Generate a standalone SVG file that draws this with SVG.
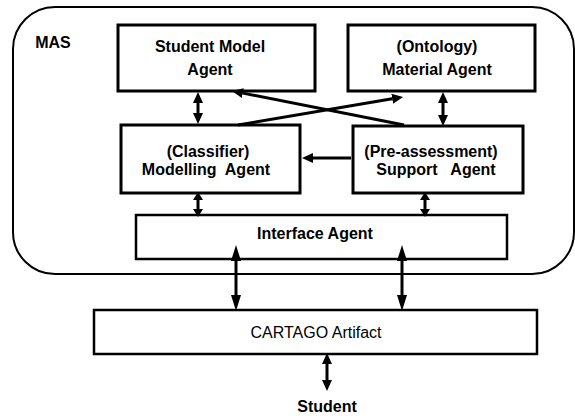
<svg xmlns="http://www.w3.org/2000/svg" width="575" height="416" viewBox="0 0 575 416">
<style>
.box{fill:#fff;stroke:#000;stroke-width:3}
.thin{fill:#fff;stroke:#000;stroke-width:2.5}
.t{font-family:"Liberation Sans",Arial,sans-serif;font-size:16px;font-weight:bold;text-anchor:middle;fill:#000}
.r{font-family:"Liberation Sans",Arial,sans-serif;font-size:16px;text-anchor:middle;fill:#000}
.c line{stroke:#000;stroke-width:3}
</style>
<defs>
<marker id="am" markerUnits="userSpaceOnUse" markerWidth="11" markerHeight="10" viewBox="0 -5 11 10" refX="0" refY="0" orient="auto-start-reverse"><path d="M0,-5L11,0L0,5z" fill="#000"/></marker>
<marker id="al" markerUnits="userSpaceOnUse" markerWidth="16" markerHeight="10" viewBox="0 -5 16 10" refX="0" refY="0" orient="auto-start-reverse"><path d="M0,-5L16,0L0,5z" fill="#000"/></marker>
<marker id="as" markerUnits="userSpaceOnUse" markerWidth="8" markerHeight="10" viewBox="0 -5 8 10" refX="0" refY="0" orient="auto-start-reverse"><path d="M0,-5L8,0L0,5z" fill="#000"/></marker>
</defs>
<rect width="575" height="416" fill="#fff"/>
<g id="mas">
<rect x="13" y="7" width="561" height="267" rx="42" ry="42" fill="none" stroke="#000" stroke-width="2"/>
<text class="t" x="53" y="48">MAS</text>
</g>
<g id="student-model">
<rect class="box" x="118" y="25" width="197" height="66"/>
<text class="t" x="210" y="52">Student Model</text>
<text class="t" x="210" y="75">Agent</text>
</g>
<g id="material">
<rect class="box" x="348" y="25" width="187" height="66"/>
<text class="t" x="437" y="52">(Ontology)</text>
<text class="t" x="437" y="75">Material Agent</text>
</g>
<g id="classifier">
<rect class="box" x="121" y="125" width="179" height="68"/>
<text class="t" x="208" y="157">(Classifier)</text>
<text class="t" x="206" y="175" xml:space="preserve">Modelling  Agent</text>
</g>
<g id="support">
<rect class="box" x="353" y="126" width="170" height="67"/>
<text class="t" x="431" y="157">(Pre-assessment)</text>
<text class="t" x="436" y="175" xml:space="preserve">Support   Agent</text>
</g>
<g id="interface">
<rect class="thin" x="136" y="215" width="371" height="44"/>
<text class="t" x="315" y="239">Interface Agent</text>
</g>
<g id="cartago">
<rect class="thin" x="94" y="310" width="443" height="44"/>
<text class="r" x="316" y="338">CARTAGO Artifact</text>
</g>
<g id="student">
<text class="t" x="327" y="412">Student</text>
</g>
<g id="connectors" class="c">
<line x1="198" y1="103" x2="198" y2="113" marker-start="url(#am)" marker-end="url(#am)"/>
<line x1="443" y1="103" x2="443" y2="115" marker-start="url(#am)" marker-end="url(#am)"/>
<line x1="351" y1="158" x2="313" y2="158" marker-end="url(#am)"/>
<line x1="404" y1="125" x2="242.8" y2="93.1" marker-end="url(#am)"/>
<line x1="238" y1="125" x2="392.2" y2="98.8" marker-end="url(#am)"/>
<line x1="198" y1="200" x2="198" y2="209" marker-start="url(#as)" marker-end="url(#as)"/>
<line x1="425" y1="200" x2="425" y2="209" marker-start="url(#as)" marker-end="url(#as)"/>
<line x1="236" y1="261" x2="236" y2="295" marker-start="url(#al)" marker-end="url(#al)"/>
<line x1="402" y1="261" x2="402" y2="295" marker-start="url(#al)" marker-end="url(#al)"/>
<line x1="327" y1="364" x2="327" y2="380" marker-start="url(#am)" marker-end="url(#am)"/>
</g>
</svg>
